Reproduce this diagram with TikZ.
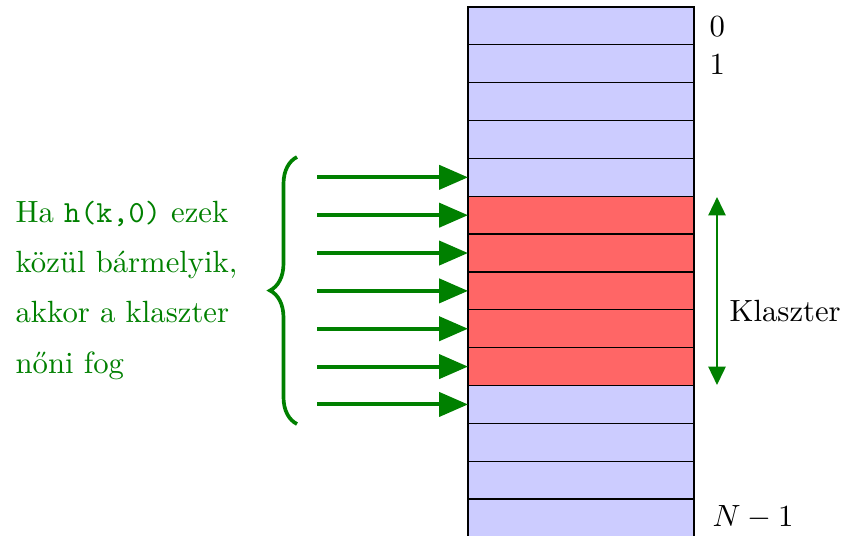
\documentclass[tikz,border=0pt]{standalone}
\usepackage{fontspec}
\usetikzlibrary{arrows.meta,decorations.pathreplacing}
\definecolor{cellblue}{RGB}{204,204,255}
\definecolor{cellred}{RGB}{255,102,102}
\definecolor{dgreen}{RGB}{0,128,0}
\begin{document}
\begin{tikzpicture}[x=0.3257pt,y=-0.3257pt,
  cell/.style={draw=black,line width=0.4pt,minimum width=73.6pt,minimum height=12.33pt,inner sep=0pt,outer sep=0pt},
  garrow/.style={draw=dgreen,line width=1.3pt,-{Triangle[length=9.4pt,width=7.8pt]}},
  karrow/.style={draw=dgreen,line width=0.7pt,{Triangle[length=6pt,width=5.6pt]}-{Triangle[length=6pt,width=5.6pt]}},
  lab/.style={anchor=west,inner sep=0pt}]
\useasboundingbox (0,0) rectangle (842,535);
\foreach \i in {0,...,13}{
  \pgfmathsetmacro{\yc}{7+37.85*\i+18.925}
  \ifnum\i>4 \ifnum\i<10
    \node[cell,fill=cellred] (r\i) at (581,\yc) {};
  \else
    \node[cell,fill=cellblue] (r\i) at (581,\yc) {};
  \fi\else
    \node[cell,fill=cellblue] (r\i) at (581,\yc) {};
  \fi
}
\node[lab] (l0) at (709,27) {0};
\node[lab] (l1) at (709,64.5) {1};
\node[lab] (ln) at (712,517) {$N-1$};
\foreach \i in {4,...,10}{
  \path (r\i.west) ++(-151,0) coordinate (s\i);
  \draw[garrow] (s\i) -- (r\i.west);
}
\coordinate (b1) at (297,424);
\coordinate (b2) at (297,157);
\draw[dgreen,line width=1.2pt,decorate,decoration={brace,amplitude=8.8pt}] (b1) -- (b2);
\node[dgreen,anchor=base west,align=left,inner sep=0pt] (txt) at (15,373)
  {Ha \texttt{h(k,0)} ezek\\[4.3pt]közül bármelyik,\\[4.3pt]akkor a klaszter\\[4.3pt]nőni fog};
\coordinate (k1) at (717,197);
\coordinate (k2) at (717,385);
\draw[karrow] (k1) -- (k2);
\node[lab] (klab) at (729,311) {Klaszter};
\end{tikzpicture}
\end{document}
